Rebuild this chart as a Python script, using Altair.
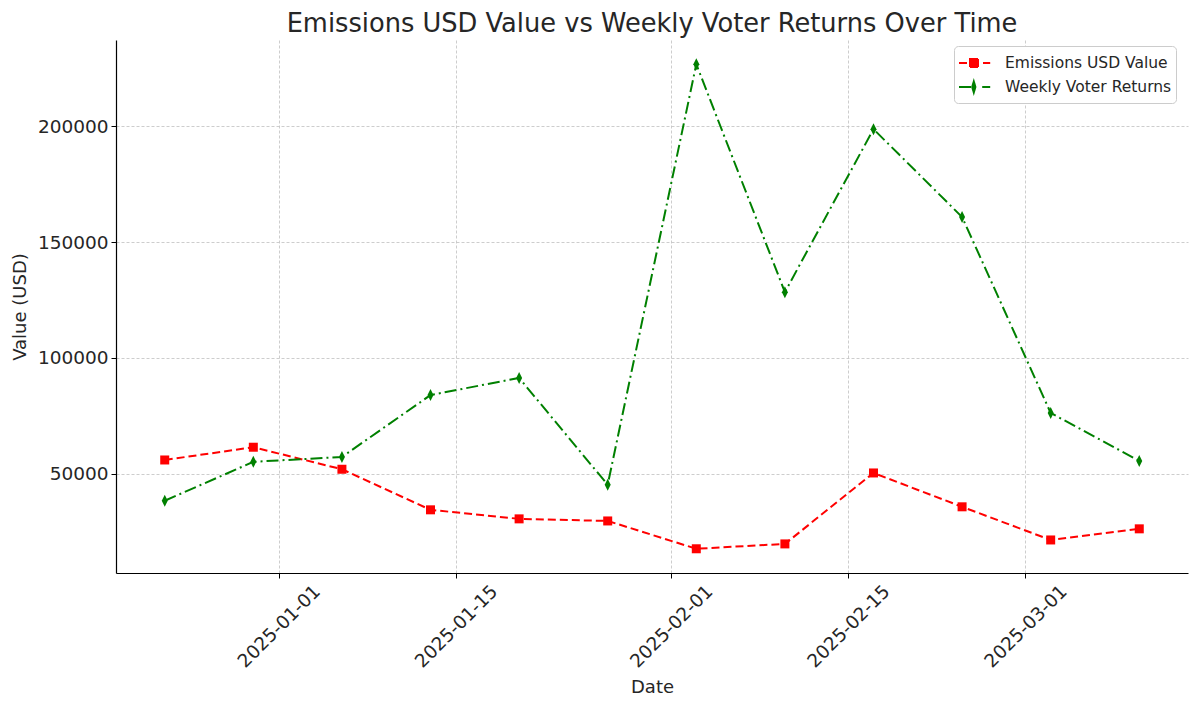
import altair as alt
import pandas as pd

dates = ["2024-12-23", "2024-12-30", "2025-01-06", "2025-01-13", "2025-01-20", "2025-01-27",
         "2025-02-03", "2025-02-10", "2025-02-17", "2025-02-24", "2025-03-03", "2025-03-10"]
emissions = [56000, 61500, 52000, 34500, 30600, 29700, 17700, 19800, 50400, 35800, 21500, 26300]
voter_returns = [38400, 55200, 57300, 84000, 91400, 45300, 226700, 128400, 198700, 160800, 76300, 55600]
series_names = ["Emissions USD Value", "Weekly Voter Returns"]
series_colors = ["#ff0000", "#008000"]

rows = []
for d, e, v in zip(dates, emissions, voter_returns):
    rows.append({"date": d, "value": e, "series": series_names[0]})
    rows.append({"date": d, "value": v, "series": series_names[1]})
df = pd.DataFrame(rows)

FONT = "DejaVu Sans"
TXT = "#262626"
Y_DOMAIN = [7250, 237150]

x_enc = alt.X(
    "date:T",
    title="Date",
    scale=alt.Scale(
        type="utc",
        domain=[alt.DateTime(year=2024, month=12, date=19, hours=3, minutes=36, utc=True),
                alt.DateTime(year=2025, month=3, date=13, hours=20, minutes=24, utc=True)],
    ),
    axis=alt.Axis(
        values=[alt.DateTime(year=2025, month=1, date=1, utc=True),
                alt.DateTime(year=2025, month=1, date=15, utc=True),
                alt.DateTime(year=2025, month=2, date=1, utc=True),
                alt.DateTime(year=2025, month=2, date=15, utc=True),
                alt.DateTime(year=2025, month=3, date=1, utc=True)],
        labelExpr="utcFormat(datum.value, '%Y-%m-%d')",
        labelAngle=-45,
        labelAlign="center",
        labelBaseline="middle",
        labelPadding=48,
        titlePadding=8,
    ),
)
y_enc = alt.Y(
    "value:Q",
    title="Value (USD)",
    scale=alt.Scale(domain=Y_DOMAIN, nice=False, zero=False),
    axis=alt.Axis(values=[50000, 100000, 150000, 200000], format="d", labelPadding=3, titlePadding=8),
)

# legend symbols: line segment + marker + line segment (marker hatched so strokes fill it)
legend_symbols = [
    "M-1.5,0H-0.5"
    "M-0.125,-0.5H0.875V0.5H-0.125Z"
    "M-0.125,-0.375H0.875M-0.125,-0.125H0.875M-0.125,0.125H0.875M-0.125,0.375H0.875"
    "M1.5,0H2.4",
    "M-1.5,0H0"
    "M0.35,-0.69L0.55,0L0.35,0.69L0.15,0Z"
    "M0.35,-0.69V0.69M0.25,-0.35V0.35M0.45,-0.35V0.35"
    "M1.4,0H2.4",
]
dashes = [[8, 4], [12, 4, 2, 4]]
marker_paths = ["M-0.75,-0.75H0.75V0.75H-0.75Z", "M0,-1L0.5,0L0,1L-0.5,0Z"]

legend_box = [
    dict(legendX=838, legendY=6, title="\u00a0" * 46, titleOrient="bottom", titlePadding=7,
         strokeColor="#cccccc", fillColor="#ffffff", zindex=0),
    dict(legendX=838, legendY=30, title=None, strokeColor="transparent", fillColor="transparent", zindex=1),
]

layers = []
for i, name in enumerate(series_names):
    sub = alt.Chart(df).transform_filter(alt.datum.series == name)
    layers.append(
        sub.mark_line(strokeWidth=2, strokeDash=dashes[i]).encode(
            x=x_enc,
            y=y_enc,
            color=alt.Color(
                "series:N",
                scale=alt.Scale(domain=[name], range=[series_colors[i]]),
                legend=alt.Legend(orient="none", symbolType=legend_symbols[i], symbolDash=[1, 0],
                                  **legend_box[i]),
            ),
        )
    )
for i, name in enumerate(series_names):
    layers.append(
        alt.Chart(df).transform_filter(alt.datum.series == name)
        .mark_point(filled=True, opacity=1, size=144, shape=marker_paths[i], color=series_colors[i])
        .encode(x=x_enc, y=y_enc)
    )

chart = alt.layer(*layers).resolve_scale(color="independent").resolve_legend(color="independent").properties(
    width=1072,
    height=533,
    autosize=alt.AutoSizeParams(type="none"),
    padding={"left": 108, "top": 32, "right": 4, "bottom": 128},
    title=alt.TitleParams(
        "Emissions USD Value vs Weekly Voter Returns Over Time",
        font=FONT, fontSize=25.7, fontWeight="normal", color=TXT,
        anchor="middle", baseline="alphabetic", offset=0, dy=18,
    ),
).configure_view(stroke=None).configure_axis(
    labelFont=FONT, labelFontSize=18.5, labelColor=TXT,
    titleFont=FONT, titleFontSize=18, titleFontWeight="normal", titleColor=TXT,
    domainColor="#000000", domainWidth=1.2,
    tickColor="#000000", tickSize=5, tickWidth=1,
    grid=True, gridColor="#c0c0c0", gridDash=[3, 2], gridWidth=0.8,
).configure_legend(
    labelFont=FONT, labelFontSize=15.5, labelColor=TXT, labelLimit=400,
    titleFont=FONT, titleFontSize=15.5, titleColor="transparent", titleLimit=400,
    cornerRadius=4, padding=8, rowPadding=8, labelOffset=25,
    symbolSize=256, symbolStrokeWidth=2,
)

chart.save("out.html", embed_options={"renderer": "svg", "actions": False})
